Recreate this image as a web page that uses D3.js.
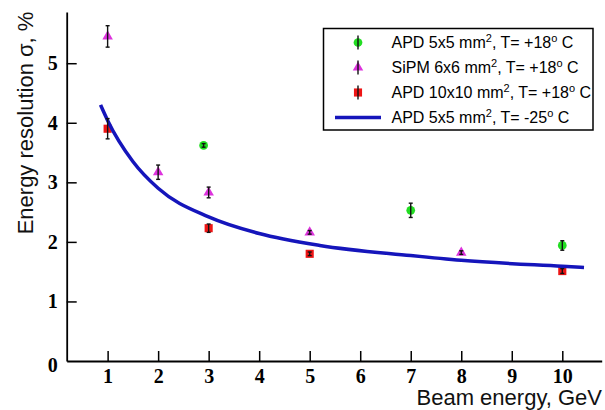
<!DOCTYPE html>
<html>
<head>
<meta charset="utf-8">
<script src="https://cdn.jsdelivr.net/npm/d3@7"></script>
<style>
  html, body { margin: 0; padding: 0; background: #fff; }
  svg { display: block; }
</style>
</head>
<body>
<svg id="chart" width="605" height="410"></svg>
<script>
// Measured points: beam energy (GeV), resolution (%), error (%)
const apd5Energy = [2.9, 7, 10];
const apd5Sigma  = [3.62, 2.53, 1.94];
const apd5Err    = [0.03, 0.12, 0.08];

const sipmEnergy = [1, 2, 3, 5, 8];
const sipmSigma  = [5.45, 3.17, 2.83, 2.16, 1.82];
const sipmErr    = [0.18, 0.12, 0.09, 0.03, 0.03];

const apd10Energy = [1, 3, 5, 10];
const apd10Sigma  = [3.90, 2.23, 1.80, 1.51];
const apd10Err    = [0.17, 0.07, 0.03, 0.04];

// Cooled APD 5x5 resolution curve
const coldEnergy = [0.86, 1, 1.5, 2, 3, 4, 5.2, 7, 8, 10, 10.43];
const coldSigma  = [4.30, 4.04, 3.35, 2.90, 2.42, 2.14, 1.94, 1.77, 1.69, 1.59, 1.57];

const xTicks = [1, 2, 3, 4, 5, 6, 7, 8, 9, 10];
const yTicks = [0, 1, 2, 3, 4, 5];

const legendDevices = ["APD 5x5 mm", "SiPM 6x6 mm", "APD 10x10 mm", "APD 5x5 mm"];
const legendTemps   = [", T= +18", ", T= +18", ", T= +18", ", T= -25"];

const svg = d3.select("#chart");

const x = d3.scaleLinear().domain([0.19, 10.78]).range([66.7, 601.7]);
const y = d3.scaleLinear().domain([0, 5.86]).range([361, 12]);

// Axes: only left and bottom, ticks pointing into the plot
const xAxis = d3.axisBottom(x).tickValues(xTicks).tickFormat(d3.format("d"))
  .tickSizeInner(-10).tickSizeOuter(0).tickPadding(8);
const yAxis = d3.axisLeft(y).tickValues(yTicks).tickFormat(d3.format("d"))
  .tickSizeInner(-10).tickSizeOuter(0).tickPadding(9);

const gx = svg.append("g").attr("transform", `translate(0,${y(0)})`).call(xAxis);
const gy = svg.append("g").attr("transform", `translate(${x.range()[0]},0)`).call(yAxis);

[gx, gy].forEach(g => {
  g.select(".domain").attr("stroke", "#000").attr("stroke-width", 1.8);
  g.selectAll(".tick line").attr("stroke", "#000").attr("stroke-width", 1.5);
  g.selectAll(".tick text")
    .attr("fill", "#000")
    .style("font-family", "'Liberation Serif', 'Times New Roman', serif")
    .style("font-weight", "bold")
    .style("font-size", "20px");
});
gy.selectAll(".tick line").filter(d => d === 0).remove();
gy.selectAll(".tick text").filter(d => d === 0).attr("dy", "0.5em");

// Axis titles
svg.append("text")
  .attr("x", 602).attr("y", 405)
  .attr("text-anchor", "end")
  .style("font-family", "'Liberation Sans', Arial, sans-serif")
  .style("font-size", "22px")
  .attr("fill", "#111")
  .text("Beam energy, GeV");

svg.append("text")
  .attr("transform", "translate(33,123) rotate(-90)")
  .attr("text-anchor", "middle")
  .style("font-family", "'Liberation Sans', Arial, sans-serif")
  .style("font-size", "22px")
  .attr("fill", "#111")
  .text("Energy resolution σ, %");

// Series definitions
const series = [
  { e: apd5Energy,  s: apd5Sigma,  err: apd5Err,  color: "#22dd22", shape: d3.symbolCircle,   size: 60 },
  { e: sipmEnergy,  s: sipmSigma,  err: sipmErr,  color: "#dd33dd", shape: d3.symbolTriangle, size: 48 },
  { e: apd10Energy, s: apd10Sigma, err: apd10Err, color: "#ee1515", shape: d3.symbolSquare,   size: 66 }
];

const plot = svg.append("g");

series.forEach(sr => {
  const pts = sr.e.map((e, i) => ({ e, s: sr.s[i], err: sr.err[i] }));
  plot.append("g").selectAll("path")
    .data(pts).join("path")
    .attr("transform", d => `translate(${x(d.e)},${y(d.s)})`)
    .attr("d", d3.symbol().type(sr.shape).size(sr.size))
    .attr("fill", sr.color);
});

// Cooled APD curve
const line = d3.line().x(d => x(d[0])).y(d => y(d[1])).curve(d3.curveMonotoneX);
plot.append("path")
  .datum(coldEnergy.map((e, i) => [e, coldSigma[i]]))
  .attr("d", line)
  .attr("fill", "none")
  .attr("stroke", "#1515bb")
  .attr("stroke-width", 3.5);

// Error bars
series.forEach(sr => {
  const pts = sr.e.map((e, i) => ({ e, s: sr.s[i], err: sr.err[i] }));
  const g = plot.append("g").attr("stroke", "#111").attr("stroke-width", 1.4);
  pts.forEach(d => {
    const cx = x(d.e), y1 = y(d.s + d.err), y2 = y(d.s - d.err);
    g.append("line").attr("x1", cx).attr("x2", cx).attr("y1", y1).attr("y2", y2);
    g.append("line").attr("x1", cx - 2).attr("x2", cx + 2).attr("y1", y1).attr("y2", y1);
    g.append("line").attr("x1", cx - 2).attr("x2", cx + 2).attr("y1", y2).attr("y2", y2);
  });
});

// Legend
const lg = svg.append("g");
lg.append("rect")
  .attr("x", 323.5).attr("y", 28.5).attr("width", 269.5).attr("height", 101.5)
  .attr("fill", "#fff").attr("stroke", "#000").attr("stroke-width", 1.5);

const rowY = i => 42.5 + i * 25;
legendDevices.forEach((dev, i) => {
  const cy = rowY(i);
  if (i < 3) {
    const sr = series[i];
    lg.append("path")
      .attr("transform", `translate(358,${cy})`)
      .attr("d", d3.symbol().type(sr.shape).size(sr.size))
      .attr("fill", sr.color);
    lg.append("line").attr("x1", 358).attr("x2", 358).attr("y1", cy - 7).attr("y2", cy + 7)
      .attr("stroke", "#111").attr("stroke-width", 1.4);
  } else {
    lg.append("line").attr("x1", 335).attr("x2", 381).attr("y1", cy).attr("y2", cy)
      .attr("stroke", "#1515bb").attr("stroke-width", 3.5);
  }
  const t = lg.append("text")
    .attr("x", 391.5).attr("y", cy + 5.5)
    .style("font-family", "'Liberation Sans', Arial, sans-serif")
    .style("font-size", "16px")
    .attr("fill", "#000");
  t.append("tspan").text(dev);
  t.append("tspan").attr("dy", -6).style("font-size", "11px").text("2");
  t.append("tspan").attr("dy", 6).text(legendTemps[i]);
  t.append("tspan").attr("dy", -6).style("font-size", "11px").text("o");
  t.append("tspan").attr("dy", 6).text(" C");
});
</script>
</body>
</html>
